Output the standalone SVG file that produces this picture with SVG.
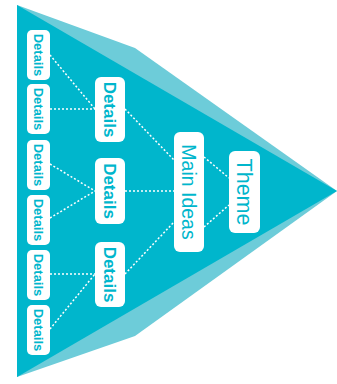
<svg xmlns="http://www.w3.org/2000/svg" width="337" height="384" viewBox="0 0 337 384">
<style>
.box{fill:#ffffff}
.t{fill:#00B6CC;font-family:"Liberation Sans",Arial,sans-serif;text-anchor:middle}
.s{font-size:13px;font-weight:bold}
.m{font-size:17px;font-weight:bold}
.l{font-size:19.5px}
.th{font-size:21.5px}
.c{stroke:#ffffff;stroke-width:1.5;stroke-dasharray:2 2;fill:none}
</style>
<rect width="337" height="384" fill="#ffffff"/>
<g id="background">
<polygon points="17,5 135,48 337,191 135,336 17,377" fill="#6DCCD9"/>
<polygon points="17,5 337,191 17,377" fill="#00B6CC"/>
</g>
<g id="connectors" class="c">
<line x1="50" y1="55" x2="95" y2="109"/>
<line x1="50" y1="109" x2="95" y2="109"/>
<line x1="50" y1="164" x2="95" y2="191"/>
<line x1="50" y1="218" x2="95" y2="191"/>
<line x1="50" y1="274" x2="95" y2="274"/>
<line x1="50" y1="329" x2="95" y2="274"/>
<line x1="125" y1="109" x2="174" y2="160"/>
<line x1="125" y1="191" x2="174" y2="191"/>
<line x1="125" y1="274" x2="174" y2="222"/>
<line x1="204" y1="157" x2="229" y2="178"/>
<line x1="204" y1="227" x2="229" y2="205"/>
</g>
<g id="d1"><rect class="box" x="27" y="30" width="23" height="50" rx="5"/><text class="t s" transform="translate(38.5,55) rotate(90)" dy="0.36em">Details</text></g>
<g id="d2"><rect class="box" x="27" y="84" width="23" height="50" rx="5"/><text class="t s" transform="translate(38.5,109) rotate(90)" dy="0.36em">Details</text></g>
<g id="d3"><rect class="box" x="27" y="140" width="23" height="50" rx="5"/><text class="t s" transform="translate(38.5,165) rotate(90)" dy="0.36em">Details</text></g>
<g id="d4"><rect class="box" x="27" y="195" width="23" height="50" rx="5"/><text class="t s" transform="translate(38.5,220) rotate(90)" dy="0.36em">Details</text></g>
<g id="d5"><rect class="box" x="27" y="250" width="23" height="50" rx="5"/><text class="t s" transform="translate(38.5,275) rotate(90)" dy="0.36em">Details</text></g>
<g id="d6"><rect class="box" x="27" y="305" width="23" height="50" rx="5"/><text class="t s" transform="translate(38.5,330) rotate(90)" dy="0.36em">Details</text></g>
<g id="m1"><rect class="box" x="95" y="77" width="30" height="65" rx="6"/><text class="t m" transform="translate(110,109.5) rotate(90)" dy="0.36em">Details</text></g>
<g id="m2"><rect class="box" x="95" y="158" width="30" height="66" rx="6"/><text class="t m" transform="translate(110,191) rotate(90)" dy="0.36em">Details</text></g>
<g id="m3"><rect class="box" x="95" y="242" width="30" height="65" rx="6"/><text class="t m" transform="translate(110,274.5) rotate(90)" dy="0.36em">Details</text></g>
<g id="main"><rect class="box" x="174" y="132" width="30" height="120" rx="6"/><text class="t l" transform="translate(189,192) rotate(90)" dy="0.36em">Main Ideas</text></g>
<g id="theme"><rect class="box" x="229" y="151" width="31" height="82" rx="6"/><text class="t th" transform="translate(244.5,192) rotate(90)" dy="0.36em">Theme</text></g>
</svg>
